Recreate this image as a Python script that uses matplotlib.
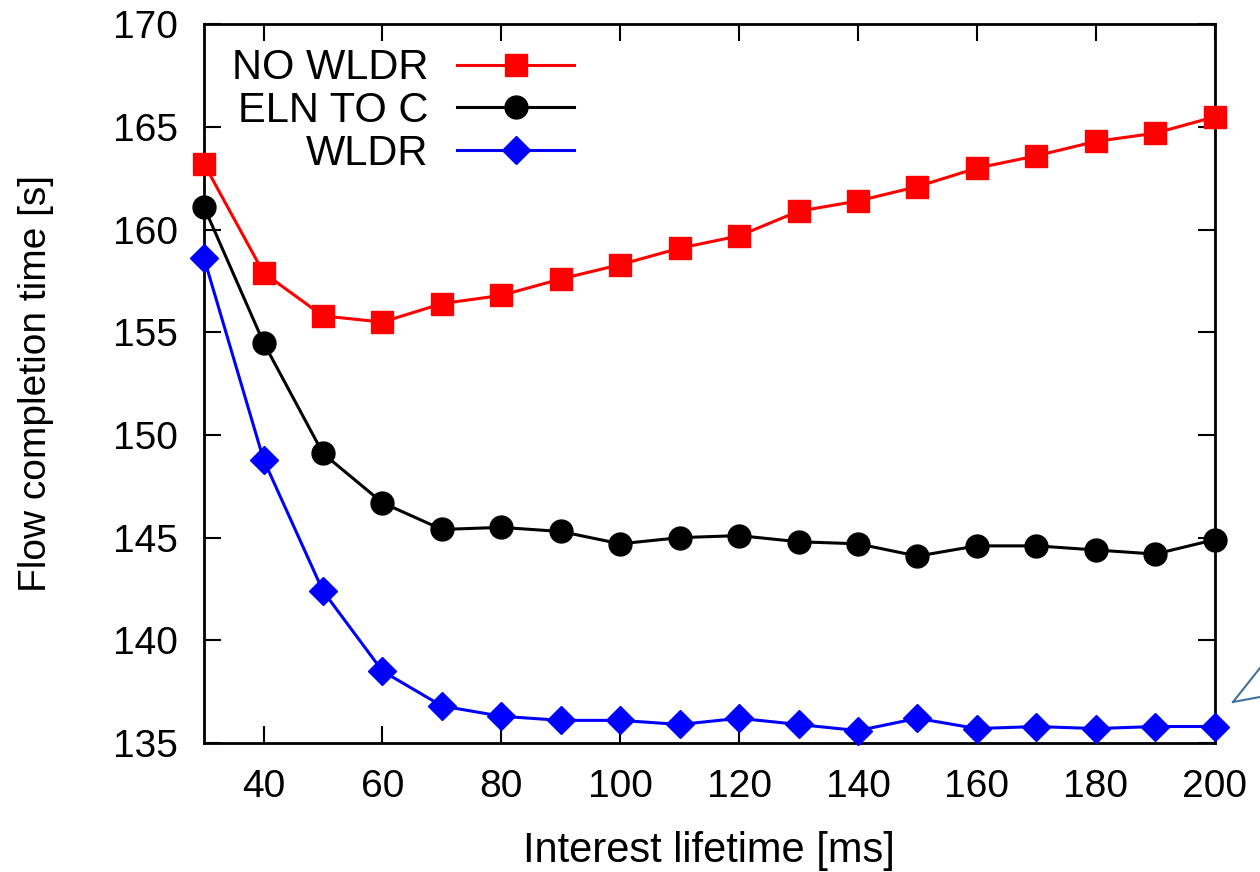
import numpy as np
import matplotlib
matplotlib.use('Agg')
import matplotlib.pyplot as plt
from matplotlib.lines import Line2D

plt.rcParams['font.family'] = ['Liberation Sans', 'DejaVu Sans']

lifetime = [30, 40, 50, 60, 70, 80, 90, 100, 110, 120, 130, 140, 150, 160, 170, 180, 190, 200]
no_wldr = [163.2, 157.9, 155.8, 155.5, 156.4, 156.8, 157.6, 158.3, 159.1, 159.7,
           160.9, 161.4, 162.1, 163.0, 163.6, 164.3, 164.7, 165.5]
eln_to_c = [161.1, 154.5, 149.1, 146.7, 145.4, 145.5, 145.3, 144.7, 145.0, 145.1,
            144.8, 144.7, 144.1, 144.6, 144.6, 144.4, 144.2, 144.9]
wldr = [158.6, 148.8, 142.4, 138.5, 136.8, 136.3, 136.1, 136.1, 135.9, 136.2,
        135.9, 135.6, 136.2, 135.7, 135.8, 135.7, 135.8, 135.8]
series_names = ['NO WLDR', 'ELN TO C', 'WLDR']
x_ticks = [40, 60, 80, 100, 120, 140, 160, 180, 200]
y_ticks = [135, 140, 145, 150, 155, 160, 165, 170]

fig = plt.figure(figsize=(12.6, 8.72), dpi=100)
ax = fig.add_axes([0.162, 0.148, 0.802, 0.824])

ax.plot(lifetime, no_wldr, color='#ff0000', lw=2.2, marker='s', ms=16.5, label=series_names[0], clip_on=False, zorder=3)
ax.plot(lifetime, eln_to_c, color='black', lw=2.2, marker='o', ms=16.5, label=series_names[1], clip_on=False, zorder=3)
ax.plot(lifetime, wldr, color='#0000ff', lw=2.2, marker='D', ms=14, label=series_names[2], clip_on=False, zorder=3)

ax.set_xlim(30, 200)
ax.set_ylim(135, 170)
ax.set_xticks(x_ticks)
ax.set_yticks(y_ticks)
ax.tick_params(direction='in', length=12, width=1.5, labelsize=28, top=True, right=True, pad=19)
for s in ax.spines.values():
    s.set_linewidth(2)

ax.set_xlabel('Interest lifetime [ms]', fontsize=30)
ax.set_ylabel('Flow completion time [s]', fontsize=28)
ax.xaxis.set_label_coords(0.5, -0.122)
ax.yaxis.set_label_coords(-0.149, 0.5)

leg = ax.legend(loc='upper right', bbox_to_anchor=(0.366, 0.967), frameon=False, fontsize=30,
                markerfirst=False, handlelength=2.8, handletextpad=0.7, labelspacing=0.07,
                borderaxespad=0, borderpad=0)
for t in leg.get_texts():
    t.set_ha('right')
leg._legend_box.align = 'right'

# partial callout shape at the right edge
fig.add_artist(Line2D([1233 / 1260, 1260 / 1260], [1 - 702 / 872, 1 - 668 / 872], color='#41719c', lw=1.5))
fig.add_artist(Line2D([1233 / 1260, 1260 / 1260], [1 - 702 / 872, 1 - 697 / 872], color='#41719c', lw=1.5))

plt.savefig('out.png', dpi=100)
plt.close()
